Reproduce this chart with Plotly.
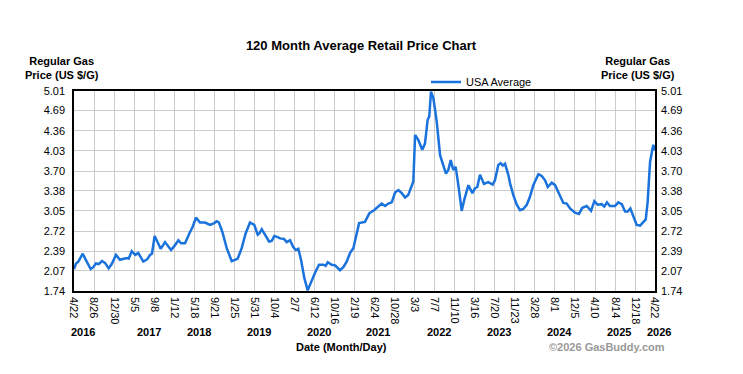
import plotly.graph_objects as go

dates = [
    "2016-04-22", "2016-05-05", "2016-05-19", "2016-06-16", "2016-07-11", "2016-08-05", "2016-08-21",
    "2016-09-07", "2016-09-24", "2016-10-15", "2016-11-03", "2016-11-26", "2016-12-15", "2017-01-11",
    "2017-02-05", "2017-02-26", "2017-03-19", "2017-04-01", "2017-04-20", "2017-05-12", "2017-05-31",
    "2017-07-02", "2017-07-27", "2017-08-13", "2017-08-25", "2017-09-11", "2017-09-28", "2017-10-19",
    "2017-11-15", "2017-12-23", "2018-01-17", "2018-02-07", "2018-02-24", "2018-03-21", "2018-04-17",
    "2018-05-08", "2018-05-29", "2018-06-23", "2018-07-24", "2018-08-25", "2018-09-21", "2018-10-06",
    "2018-10-20", "2018-11-10", "2018-12-08", "2019-01-08", "2019-01-29", "2019-02-15", "2019-03-12",
    "2019-04-06", "2019-05-03", "2019-05-30", "2019-06-21", "2019-07-01", "2019-07-16", "2019-08-06",
    "2019-08-31", "2019-09-17", "2019-10-03", "2019-10-24", "2019-11-08", "2019-12-03", "2019-12-20",
    "2020-01-10", "2020-01-30", "2020-02-15", "2020-03-02", "2020-03-19", "2020-04-09", "2020-04-30",
    "2020-05-25", "2020-06-15", "2020-07-10", "2020-08-06", "2020-08-21", "2020-09-03", "2020-09-28",
    "2020-10-19", "2020-11-19", "2020-12-10", "2020-12-31", "2021-01-21", "2021-02-11", "2021-03-04",
    "2021-03-19", "2021-04-25", "2021-05-22", "2021-06-21", "2021-07-18", "2021-08-08", "2021-08-29",
    "2021-09-19", "2021-10-10", "2021-10-31", "2021-11-21", "2021-12-12", "2022-01-02", "2022-01-22",
    "2022-02-23", "2022-03-06", "2022-03-26", "2022-04-20", "2022-05-07", "2022-05-24", "2022-06-03",
    "2022-06-14", "2022-06-29", "2022-07-20", "2022-08-10", "2022-08-30", "2022-09-16", "2022-10-01",
    "2022-10-16", "2022-11-01", "2022-11-16", "2022-12-03", "2022-12-24", "2023-01-09", "2023-02-04",
    "2023-03-01", "2023-03-18", "2023-04-01", "2023-04-18", "2023-05-13", "2023-06-09", "2023-07-07",
    "2023-07-21", "2023-08-11", "2023-08-26", "2023-09-08", "2023-09-22", "2023-10-13", "2023-10-24",
    "2023-11-13", "2023-12-05", "2023-12-26", "2024-01-15", "2024-02-06", "2024-02-26", "2024-03-18",
    "2024-04-19", "2024-05-10", "2024-05-31", "2024-06-17", "2024-07-12", "2024-08-02", "2024-08-27",
    "2024-09-23", "2024-10-14", "2024-11-04", "2024-12-05", "2024-12-30", "2025-01-20", "2025-02-17",
    "2025-03-16", "2025-04-06", "2025-04-27", "2025-05-22", "2025-06-07", "2025-06-24", "2025-07-13",
    "2025-08-14", "2025-09-03", "2025-09-25", "2025-10-16", "2025-11-02", "2025-11-18", "2025-12-07",
    "2025-12-28", "2026-01-18", "2026-02-08", "2026-02-23", "2026-03-07", "2026-03-22", "2026-04-11",
    "2026-04-22",
]

prices = [
    2.10, 2.19, 2.22, 2.35, 2.22, 2.10, 2.13,
    2.19, 2.18, 2.23, 2.20, 2.11, 2.18, 2.33,
    2.25, 2.26, 2.28, 2.27, 2.39, 2.33, 2.36,
    2.22, 2.26, 2.33, 2.35, 2.64, 2.55, 2.43,
    2.54, 2.41, 2.49, 2.57, 2.52, 2.52, 2.68,
    2.79, 2.94, 2.86, 2.86, 2.82, 2.85, 2.88,
    2.86, 2.71, 2.44, 2.23, 2.25, 2.27, 2.44,
    2.68, 2.86, 2.82, 2.66, 2.68, 2.75, 2.66,
    2.55, 2.56, 2.64, 2.62, 2.60, 2.59, 2.54,
    2.57, 2.46, 2.41, 2.43, 2.25, 1.95, 1.75,
    1.92, 2.04, 2.17, 2.17, 2.15, 2.21, 2.17,
    2.16, 2.08, 2.13, 2.22, 2.36, 2.44, 2.68,
    2.85, 2.87, 3.01, 3.06, 3.13, 3.17, 3.13,
    3.17, 3.19, 3.35, 3.39, 3.34, 3.27, 3.31,
    3.53, 4.29, 4.21, 4.05, 4.15, 4.54, 4.59,
    5.00, 4.89, 4.51, 3.96, 3.80, 3.66, 3.72,
    3.88, 3.72, 3.77, 3.47, 3.05, 3.23, 3.47,
    3.34, 3.42, 3.44, 3.64, 3.49, 3.52, 3.48,
    3.55, 3.80, 3.83, 3.79, 3.82, 3.64, 3.50,
    3.31, 3.15, 3.06, 3.08, 3.15, 3.28, 3.47,
    3.65, 3.62, 3.55, 3.44, 3.51, 3.47, 3.34,
    3.18, 3.17, 3.09, 3.02, 3.00, 3.10, 3.13,
    3.05, 3.21, 3.15, 3.16, 3.12, 3.19, 3.13,
    3.13, 3.19, 3.16, 3.04, 3.04, 3.09, 2.95,
    2.82, 2.81, 2.87, 2.91, 3.20, 3.85, 4.13,
    4.04,
]

x_tick_dates = [
    "2016-04-22", "2016-08-26", "2016-12-30", "2017-05-05", "2017-09-08", "2018-01-12",
    "2018-05-18", "2018-09-21", "2019-01-25", "2019-05-31", "2019-10-04", "2020-02-07",
    "2020-06-12", "2020-10-16", "2021-02-19", "2021-06-24", "2021-10-28", "2022-03-03",
    "2022-07-07", "2022-11-10", "2023-03-16", "2023-07-20", "2023-11-23", "2024-03-28",
    "2024-08-01", "2024-12-05", "2025-04-10", "2025-08-14", "2025-12-18", "2026-04-22",
]
x_tick_labels = [
    "4/22", "8/26", "12/30", "5/5", "9/8", "1/12", "5/18", "9/21", "1/25", "5/31",
    "10/4", "2/7", "6/12", "10/16", "2/19", "6/24", "10/28", "3/3", "7/7", "11/10",
    "3/16", "7/20", "11/23", "3/28", "8/1", "12/5", "4/10", "8/14", "12/18", "4/22",
]
y_ticks = [1.74, 2.07, 2.39, 2.72, 3.05, 3.38, 3.70, 4.03, 4.36, 4.69, 5.01]
y_tick_labels = ["%.2f" % v for v in y_ticks]

year_labels = ["2016", "2017", "2018", "2019", "2020", "2021", "2022", "2023", "2024", "2025", "2026"]
year_px = [83, 149, 199, 259, 319, 378, 439, 499, 559, 619, 659]

FONT = "Arial, Liberation Sans, sans-serif"
OFF = 8  # page body margin
W, H = 743 - OFF, 374 - OFF
# plot area in page pixels
PL, PR, PT, PB = 74, 655, 91, 291
L, R, T, B = PL - OFF, PR - OFF, PT - OFF, PB - OFF
LINE_COLOR = "#1a72dd"


def px_x(px):
    return (px - PL) / (PR - PL)


def px_y(py):
    return (PB - py) / (PB - PT)


fig = go.Figure()
fig.add_trace(go.Scatter(
    x=dates, y=prices, mode="lines", name="USA Average",
    line=dict(color=LINE_COLOR, width=2.5),
))
fig.add_trace(go.Scatter(
    x=dates, y=prices, mode="lines", yaxis="y2", showlegend=False,
    line=dict(color="rgba(0,0,0,0)", width=0), hoverinfo="skip",
))

axis_font = dict(family=FONT, size=11, color="#000")
fig.update_layout(
    width=W, height=H,
    margin=dict(l=L, r=W - R, t=T, b=H - B, pad=0),
    paper_bgcolor="white", plot_bgcolor="white",
    font=dict(family=FONT, size=11, color="#000"),
    title=dict(text="<b>120 Month Average Retail Price Chart</b>",
               x=(361 - OFF) / W, xanchor="center", y=1 - (45 - OFF) / H, yanchor="middle",
               font=dict(family=FONT, size=13, color="#000")),
    showlegend=True,
    legend=dict(orientation="h", x=px_x(426), xanchor="left",
                y=px_y(82), yanchor="middle", bgcolor="rgba(0,0,0,0)",
                font=dict(family=FONT, size=11, color="#000"),
                itemwidth=30, tracegroupgap=0),
    xaxis=dict(
        type="date", range=[dates[0], "2026-04-22"],
        tickmode="array", tickvals=x_tick_dates, ticktext=x_tick_labels,
        tickangle=90, tickfont=axis_font,
        showgrid=True, gridcolor="#cccccc", gridwidth=1,
        showline=True, linecolor="#000", linewidth=1.5, mirror=True,
        ticks="", zeroline=False, ticklabelstandoff=2,
    ),
    yaxis=dict(
        range=[1.74, 5.01], tickmode="array", tickvals=y_ticks, ticktext=y_tick_labels,
        tickfont=axis_font, showgrid=True, gridcolor="#cccccc", gridwidth=1,
        showline=True, linecolor="#000", linewidth=1.5, mirror=True,
        ticks="", zeroline=False, ticklabelstandoff=5,
    ),
    yaxis2=dict(
        range=[1.74, 5.01], tickmode="array", tickvals=y_ticks, ticktext=y_tick_labels,
        tickfont=axis_font, overlaying="y", side="right", showgrid=False,
        ticks="", zeroline=False, showline=False, ticklabelstandoff=5,
    ),
)

annotations = []
for lab, px in zip(year_labels, year_px):
    annotations.append(dict(
        text="<b>%s</b>" % lab, xref="paper", yref="paper",
        x=px_x(px), y=px_y(332), xanchor="center", yanchor="middle",
        showarrow=False, font=dict(family=FONT, size=11, color="#000"),
    ))
annotations += [
    dict(text="<b>Regular Gas<br>Price (US $/G)</b>", xref="paper", yref="paper",
         x=px_x(62), y=px_y(68), xanchor="center", yanchor="middle",
         showarrow=False, align="center", font=dict(family=FONT, size=11, color="#000")),
    dict(text="<b>Regular Gas<br>Price (US $/G)</b>", xref="paper", yref="paper",
         x=px_x(638), y=px_y(68), xanchor="center", yanchor="middle",
         showarrow=False, align="center", font=dict(family=FONT, size=11, color="#000")),
    dict(text="<b>Date (Month/Day)</b>", xref="paper", yref="paper",
         x=px_x(341), y=px_y(347), xanchor="center", yanchor="middle",
         showarrow=False, font=dict(family=FONT, size=11, color="#000")),
    dict(text="<b>©2026 GasBuddy.com</b>", xref="paper", yref="paper",
         x=px_x(607), y=px_y(347), xanchor="center", yanchor="middle",
         showarrow=False, font=dict(family=FONT, size=11, color="#999999")),
]
fig.update_layout(annotations=annotations)

fig.write_html("out.html")
